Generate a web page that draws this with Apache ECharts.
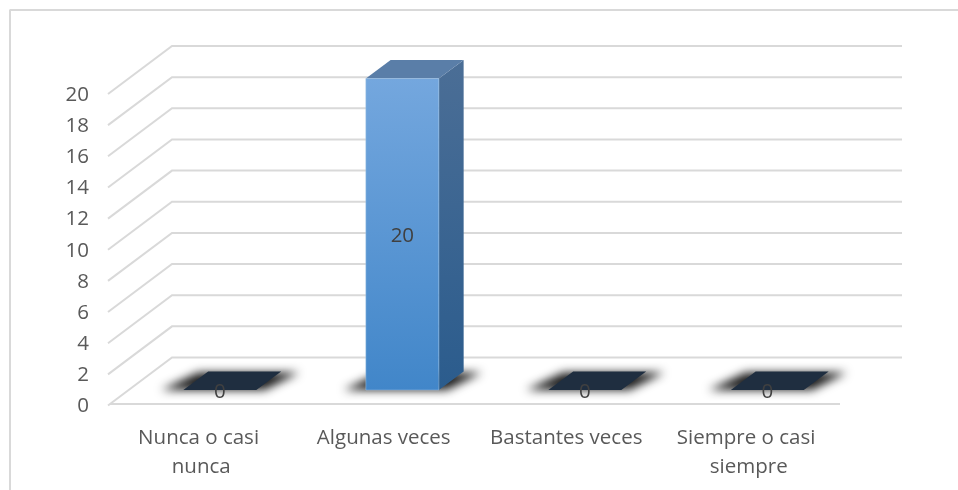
<!DOCTYPE html>
<html>
<head>
<meta charset="utf-8">
<style>html,body{margin:0;padding:0;background:#fff}#c{width:958px;height:490px}</style>
<script src="https://cdn.jsdelivr.net/npm/echarts@6/dist/echarts.min.js"></script>
</head>
<body>
<div id="c"></div>
<script>
const categories = ['Nunca o casi nunca', 'Algunas veces', 'Bastantes veces', 'Siempre o casi siempre'];
const values = [0, 20, 0, 0];
const yTicks = [0, 2, 4, 6, 8, 10, 12, 14, 16, 18, 20];

const FONT = '"Open Sans", sans-serif';
const FONT_SIZE = 20.5;
const DEPTH_X = 62, DEPTH_Y = 46.5;
const GRID_COLOR = '#d9d9d9';
const chart = echarts.init(document.getElementById('c'));

function renderWall(params, api) {
  const v = api.value(1);
  const cs = params.coordSys;
  const p = api.coord([0, v]);
  const x0 = cs.x, y0 = p[1];
  const style = { stroke: GRID_COLOR, lineWidth: 2, fill: null };
  const children = [{
    type: 'polyline',
    shape: { points: [[x0 - 2, y0 + 1.5], [x0 + DEPTH_X, y0 - DEPTH_Y], [x0 + cs.width + DEPTH_X, y0 - DEPTH_Y]] },
    style
  }];
  if (v === 0) {
    children.push({ type: 'line', shape: { x1: x0, y1: y0, x2: x0 + cs.width, y2: y0 }, style });
  }
  return { type: 'group', children };
}

function renderBar(params, api) {
  const idx = api.value(0), v = api.value(1);
  const band = api.size([1, 0])[0];
  const base = api.coord([idx, 0]);
  const top = api.coord([idx, v]);
  const w = band * 0.4;
  const fx = 0.3 * DEPTH_X, fy = 0.3 * DEPTH_Y;
  const dx = 0.4 * DEPTH_X, dy = 0.4 * DEPTH_Y;
  const xl = base[0] - w / 2 + fx, xr = xl + w;
  const yb = base[1] - fy, yt = top[1] - fy;
  const children = [];
  // blurred floor shadow: the shape sits off-canvas, only its shadow lands on the floor
  const OFF = 3000;
  children.push({
    type: 'polygon',
    shape: { points: [
      [xl - 22, yb], [xr + 8, yb],
      [xr + dx + 18, yb - dy + 1], [xl + dx - 10, yb - dy + 1]
    ].map(q => [q[0] - OFF, q[1]]) },
    style: { fill: '#000', shadowBlur: 10, shadowColor: '#1a1a1a', shadowOffsetX: OFF }
  });
  if (v === 0) {
    children.push({
      type: 'polygon',
      shape: { points: [[xl, yb], [xr, yb], [xr + dx, yb - dy], [xl + dx, yb - dy]] },
      style: { fill: '#1f2e40' }
    });
  } else {
    children.push({
      type: 'polygon',
      shape: { points: [[xr, yb], [xr + dx, yb - dy], [xr + dx, yt - dy], [xr, yt]] },
      style: { fill: new echarts.graphic.LinearGradient(0, 0, 0, 1, [
        { offset: 0, color: '#4b6e96' }, { offset: 1, color: '#2b5c8d' }]) }
    });
    children.push({
      type: 'polygon',
      shape: { points: [[xl, yt], [xr, yt], [xr + dx, yt - dy], [xl + dx, yt - dy]] },
      style: { fill: '#5a7ea8' }
    });
    children.push({
      type: 'rect',
      shape: { x: xl, y: yt, width: w, height: yb - yt },
      style: {
        fill: new echarts.graphic.LinearGradient(0, 0, 0, 1, [
          { offset: 0, color: '#74a7de' }, { offset: 1, color: '#4186c9' }]),
        stroke: 'rgba(160,195,230,0.5)', lineWidth: 1
      }
    });
  }
  children.push({
    type: 'text',
    style: {
      x: (xl + xr) / 2, y: (yb + yt) / 2 + 2,
      text: String(v), fill: '#404040', font: FONT_SIZE + 'px ' + FONT,
      align: 'center', verticalAlign: 'middle'
    }
  });
  return { type: 'group', children };
}

chart.setOption({
  animation: false,
  backgroundColor: '#ffffff',
  textStyle: { fontFamily: FONT },
  graphic: [
    { type: 'line', shape: { x1: 9.5, y1: 10, x2: 958, y2: 10 }, style: { stroke: GRID_COLOR, lineWidth: 2 } },
    { type: 'line', shape: { x1: 10, y1: 10, x2: 10, y2: 490 }, style: { stroke: GRID_COLOR, lineWidth: 2 } }
  ],
  grid: { left: 110, width: 730, top: 92.5, height: 311.5 },
  xAxis: {
    type: 'category',
    data: categories,
    axisLine: { show: false },
    axisTick: { show: false },
    axisLabel: {
      color: '#595959', fontSize: FONT_SIZE, fontFamily: FONT, margin: 20, lineHeight: 29,
      interval: 0, width: 170, overflow: 'break', align: 'center'
    }
  },
  yAxis: {
    type: 'value', min: 0, max: 20, interval: 2,
    axisLine: { show: false },
    axisTick: { show: false },
    splitLine: { show: false },
    axisLabel: { color: '#595959', fontSize: FONT_SIZE, fontFamily: FONT, margin: 21, verticalAlign: 'top', lineHeight: 5 }
  },
  series: [
    { type: 'custom', name: 'walls', z: 1, silent: true, renderItem: renderWall,
      encode: { x: 0, y: 1 }, data: yTicks.map(v => [0, v]) },
    { type: 'custom', name: 'bars', z: 2, renderItem: renderBar,
      encode: { x: 0, y: 1 }, data: values.map((v, i) => [i, v]) }
  ]
});
</script>
</body>
</html>
